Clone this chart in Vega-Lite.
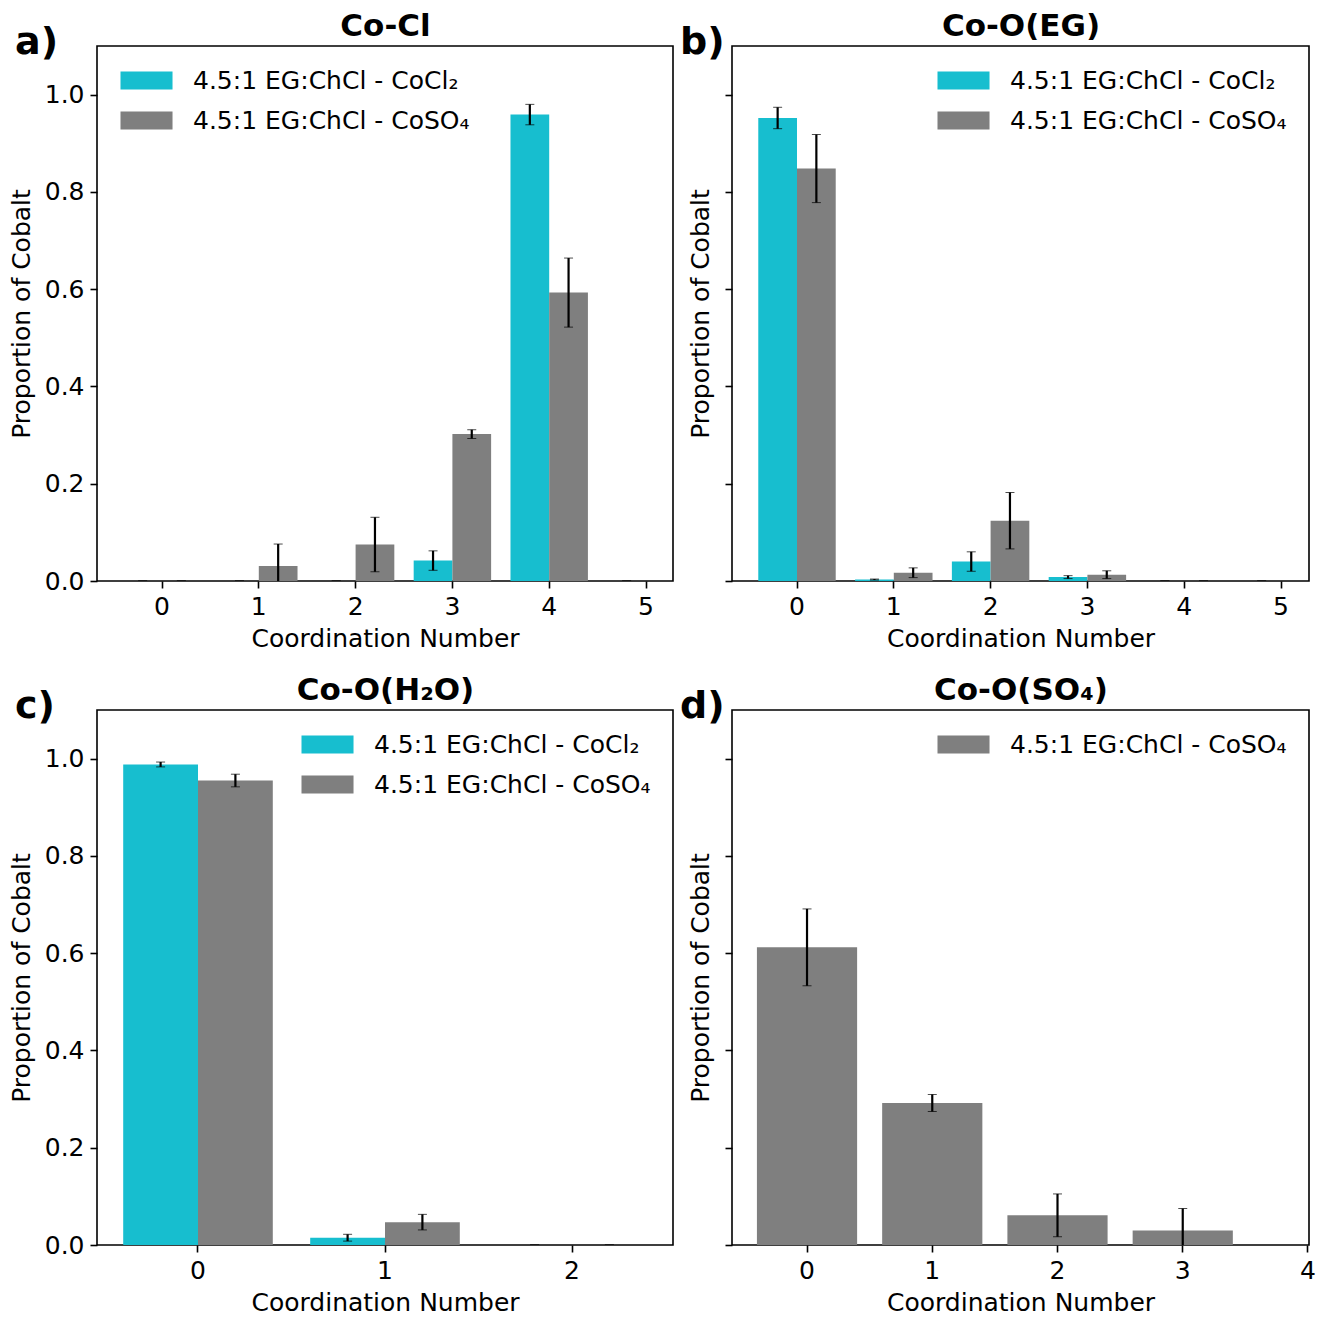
{
  "$schema": "https://vega.github.io/schema/vega-lite/v6.json",
  "padding": {"left": 8, "top": 9, "right": 5, "bottom": 5},
  "config": {
    "font": "DejaVu Sans",
    "view": {"stroke": "black", "strokeWidth": 1.6},
    "axis": {
      "domain": false, "grid": false,
      "tickColor": "black", "tickSize": 7, "tickWidth": 1.6,
      "labelFontSize": 25, "labelColor": "black", "labelPadding": 6,
      "titleFontSize": 25, "titleFontWeight": "normal", "titleColor": "black"
    },
    "title": {"fontSize": 38, "fontWeight": "bold", "color": "black", "anchor": "start", "frame": "group"},
    "legend": {
      "labelFontSize": 25, "labelColor": "black", "labelLimit": 500,
      "symbolType": "M-1,-1H4.78V1H-1Z", "symbolSize": 324, "symbolStrokeWidth": 0, "symbolOffset": -2,
      "labelOffset": 51, "rowPadding": 14, "padding": 22, "offset": 0
    }
  },
  "datasets": {
    "cocl": [
      {"cn": 0, "series": "4.5:1 EG:ChCl - CoCl₂", "value": 0, "err": 0},
      {"cn": 1, "series": "4.5:1 EG:ChCl - CoCl₂", "value": 0, "err": 0},
      {"cn": 2, "series": "4.5:1 EG:ChCl - CoCl₂", "value": 0, "err": 0},
      {"cn": 3, "series": "4.5:1 EG:ChCl - CoCl₂", "value": 0.042, "err": 0.02},
      {"cn": 4, "series": "4.5:1 EG:ChCl - CoCl₂", "value": 0.959, "err": 0.021},
      {"cn": 5, "series": "4.5:1 EG:ChCl - CoCl₂", "value": 0, "err": 0},
      {"cn": 0, "series": "4.5:1 EG:ChCl - CoSO₄", "value": 0, "err": 0},
      {"cn": 1, "series": "4.5:1 EG:ChCl - CoSO₄", "value": 0.031, "err": 0.045},
      {"cn": 2, "series": "4.5:1 EG:ChCl - CoSO₄", "value": 0.075, "err": 0.056},
      {"cn": 3, "series": "4.5:1 EG:ChCl - CoSO₄", "value": 0.302, "err": 0.009},
      {"cn": 4, "series": "4.5:1 EG:ChCl - CoSO₄", "value": 0.593, "err": 0.071}
    ],
    "coeg": [
      {"cn": 0, "series": "4.5:1 EG:ChCl - CoCl₂", "value": 0.952, "err": 0.022},
      {"cn": 1, "series": "4.5:1 EG:ChCl - CoCl₂", "value": 0.003, "err": 0.001},
      {"cn": 2, "series": "4.5:1 EG:ChCl - CoCl₂", "value": 0.04, "err": 0.02},
      {"cn": 3, "series": "4.5:1 EG:ChCl - CoCl₂", "value": 0.008, "err": 0.003},
      {"cn": 4, "series": "4.5:1 EG:ChCl - CoCl₂", "value": 0, "err": 0},
      {"cn": 5, "series": "4.5:1 EG:ChCl - CoCl₂", "value": 0, "err": 0},
      {"cn": 0, "series": "4.5:1 EG:ChCl - CoSO₄", "value": 0.848, "err": 0.07},
      {"cn": 1, "series": "4.5:1 EG:ChCl - CoSO₄", "value": 0.017, "err": 0.01},
      {"cn": 2, "series": "4.5:1 EG:ChCl - CoSO₄", "value": 0.124, "err": 0.058},
      {"cn": 3, "series": "4.5:1 EG:ChCl - CoSO₄", "value": 0.013, "err": 0.008},
      {"cn": 4, "series": "4.5:1 EG:ChCl - CoSO₄", "value": 0, "err": 0}
    ],
    "coh2o": [
      {"cn": 0, "series": "4.5:1 EG:ChCl - CoCl₂", "value": 0.988, "err": 0.005},
      {"cn": 1, "series": "4.5:1 EG:ChCl - CoCl₂", "value": 0.015, "err": 0.007},
      {"cn": 2, "series": "4.5:1 EG:ChCl - CoCl₂", "value": 0, "err": 0},
      {"cn": 0, "series": "4.5:1 EG:ChCl - CoSO₄", "value": 0.955, "err": 0.013},
      {"cn": 1, "series": "4.5:1 EG:ChCl - CoSO₄", "value": 0.047, "err": 0.016},
      {"cn": 2, "series": "4.5:1 EG:ChCl - CoSO₄", "value": 0, "err": 0}
    ],
    "coso4": [
      {"cn": 0, "series": "4.5:1 EG:ChCl - CoSO₄", "value": 0.612, "err": 0.079},
      {"cn": 1, "series": "4.5:1 EG:ChCl - CoSO₄", "value": 0.292, "err": 0.0175},
      {"cn": 2, "series": "4.5:1 EG:ChCl - CoSO₄", "value": 0.061, "err": 0.044},
      {"cn": 3, "series": "4.5:1 EG:ChCl - CoSO₄", "value": 0.03, "err": 0.045}
    ]
  },
  "columns": 2,
  "spacing": {"row": 129, "column": 59},
  "bounds": "flush",
  "resolve": {"scale": {"x": "independent", "y": "independent", "color": "independent", "xOffset": "independent"}, "legend": {"color": "independent"}},
  "concat": [
    {
      "width": 576, "height": 535,
      "title": {"text": "a)", "dx": -82, "dy": 56},
      "data": {"name": "cocl"},
      "encoding": {
        "xOffset": {"field": "series", "type": "nominal", "scale": {"domain": ["4.5:1 EG:ChCl - CoCl₂", "4.5:1 EG:ChCl - CoSO₄"], "paddingInner": 0, "paddingOuter": 0}},
        "y": {"field": "value", "type": "quantitative",
          "scale": {"domain": [0, 1.1], "nice": false},
          "axis": {"title": "Proportion of Cobalt", "values": [0, 0.2, 0.4, 0.6, 0.8, 1.0], "format": ".1f", "titlePadding": 10}}
      },
      "layer": [
        {"mark": {"type": "bar"},
         "encoding": {
           "x": {"field": "cn", "type": "ordinal",
             "scale": {"domain": [0, 1, 2, 3, 4, 5], "range": [16.6, 597.4], "paddingInner": 0.2, "paddingOuter": 0.1, "align": 0.5},
             "axis": {"title": "Coordination Number", "titleX": 288, "labelAngle": 0, "bandPosition": 0.5, "titlePadding": 7}},
           "color": {"field": "series", "type": "nominal",
             "scale": {"domain": ["4.5:1 EG:ChCl - CoCl₂", "4.5:1 EG:ChCl - CoSO₄"], "range": ["#17becf", "#7f7f7f"]},
             "legend": {"title": null, "orient": "top-left"}}}},
        {"mark": {"type": "errorbar", "clip": true, "ticks": {"size": 9, "strokeWidth": 2, "color": "black"}, "rule": {"strokeWidth": 2.2, "color": "black"}},
         "encoding": {
           "x": {"field": "cn", "type": "ordinal",
             "axis": {"orient": "top", "title": "Co-Cl", "titleX": 288, "ticks": false, "labels": false, "titleFontSize": 31, "titleFontWeight": "bold", "titlePadding": 4}},
           "yError": {"field": "err"}}}
      ],
      "resolve": {"axis": {"x": "independent"}}
    },
    {
      "width": 577, "height": 535,
      "title": {"text": "b)", "dx": -52, "dy": 56},
      "data": {"name": "coeg"},
      "encoding": {
        "xOffset": {"field": "series", "type": "nominal", "scale": {"domain": ["4.5:1 EG:ChCl - CoCl₂", "4.5:1 EG:ChCl - CoSO₄"], "paddingInner": 0, "paddingOuter": 0}},
        "y": {"field": "value", "type": "quantitative",
          "scale": {"domain": [0, 1.1], "nice": false},
          "axis": {"title": "Proportion of Cobalt", "values": [0, 0.2, 0.4, 0.6, 0.8, 1.0], "labels": false, "titlePadding": 11}}
      },
      "layer": [
        {"mark": {"type": "bar"},
         "encoding": {
           "x": {"field": "cn", "type": "ordinal",
             "scale": {"domain": [0, 1, 2, 3, 4, 5], "range": [16.6, 597.4], "paddingInner": 0.2, "paddingOuter": 0.1, "align": 0.5},
             "axis": {"title": "Coordination Number", "titleX": 288.5, "labelAngle": 0, "bandPosition": 0.5, "titlePadding": 7}},
           "color": {"field": "series", "type": "nominal",
             "scale": {"domain": ["4.5:1 EG:ChCl - CoCl₂", "4.5:1 EG:ChCl - CoSO₄"], "range": ["#17becf", "#7f7f7f"]},
             "legend": {"title": null, "orient": "top-right"}}}},
        {"mark": {"type": "errorbar", "clip": true, "ticks": {"size": 9, "strokeWidth": 2, "color": "black"}, "rule": {"strokeWidth": 2.2, "color": "black"}},
         "encoding": {
           "x": {"field": "cn", "type": "ordinal",
             "axis": {"orient": "top", "title": "Co-O(EG)", "titleX": 288.5, "ticks": false, "labels": false, "titleFontSize": 31, "titleFontWeight": "bold", "titlePadding": 4}},
           "yError": {"field": "err"}}}
      ],
      "resolve": {"axis": {"x": "independent"}}
    },
    {
      "width": 576, "height": 535,
      "title": {"text": "c)", "dx": -82, "dy": 56},
      "data": {"name": "coh2o"},
      "encoding": {
        "xOffset": {"field": "series", "type": "nominal", "scale": {"domain": ["4.5:1 EG:ChCl - CoCl₂", "4.5:1 EG:ChCl - CoSO₄"], "paddingInner": 0, "paddingOuter": 0}},
        "y": {"field": "value", "type": "quantitative",
          "scale": {"domain": [0, 1.1], "nice": false},
          "axis": {"title": "Proportion of Cobalt", "values": [0, 0.2, 0.4, 0.6, 0.8, 1.0], "format": ".1f", "titlePadding": 10}}
      },
      "layer": [
        {"mark": {"type": "bar"},
         "encoding": {
           "x": {"field": "cn", "type": "ordinal",
             "scale": {"domain": [0, 1, 2], "range": [7.5, 568.5], "paddingInner": 0.2, "paddingOuter": 0.1, "align": 0.5},
             "axis": {"title": "Coordination Number", "titleX": 288, "labelAngle": 0, "bandPosition": 0.5, "titlePadding": 7}},
           "color": {"field": "series", "type": "nominal",
             "scale": {"domain": ["4.5:1 EG:ChCl - CoCl₂", "4.5:1 EG:ChCl - CoSO₄"], "range": ["#17becf", "#7f7f7f"]},
             "legend": {"title": null, "orient": "top-right"}}}},
        {"mark": {"type": "errorbar", "clip": true, "ticks": {"size": 9, "strokeWidth": 2, "color": "black"}, "rule": {"strokeWidth": 2.2, "color": "black"}},
         "encoding": {
           "x": {"field": "cn", "type": "ordinal",
             "axis": {"orient": "top", "title": "Co-O(H₂O)", "titleX": 288, "ticks": false, "labels": false, "titleFontSize": 31, "titleFontWeight": "bold", "titlePadding": 4}},
           "yError": {"field": "err"}}}
      ],
      "resolve": {"axis": {"x": "independent"}}
    },
    {
      "width": 577, "height": 535,
      "title": {"text": "d)", "dx": -52, "dy": 56},
      "data": {"name": "coso4"},
      "encoding": {
        "xOffset": {"field": "series", "type": "nominal", "scale": {"domain": ["4.5:1 EG:ChCl - CoSO₄"], "paddingInner": 0, "paddingOuter": 0}},
        "y": {"field": "value", "type": "quantitative",
          "scale": {"domain": [0, 1.1], "nice": false},
          "axis": {"title": "Proportion of Cobalt", "values": [0, 0.2, 0.4, 0.6, 0.8, 1.0], "labels": false, "titlePadding": 11}}
      },
      "layer": [
        {"mark": {"type": "bar"},
         "encoding": {
           "x": {"field": "cn", "type": "ordinal",
             "scale": {"domain": [0, 1, 2, 3, 4], "range": [12.4, 638.6], "paddingInner": 0.2, "paddingOuter": 0.1, "align": 0.5},
             "axis": {"title": "Coordination Number", "titleX": 288.5, "labelAngle": 0, "bandPosition": 0.5, "titlePadding": 7}},
           "color": {"field": "series", "type": "nominal",
             "scale": {"domain": ["4.5:1 EG:ChCl - CoSO₄"], "range": ["#7f7f7f"]},
             "legend": {"title": null, "orient": "top-right"}}}},
        {"mark": {"type": "errorbar", "clip": true, "ticks": {"size": 9, "strokeWidth": 2, "color": "black"}, "rule": {"strokeWidth": 2.2, "color": "black"}},
         "encoding": {
           "x": {"field": "cn", "type": "ordinal",
             "axis": {"orient": "top", "title": "Co-O(SO₄)", "titleX": 288.5, "ticks": false, "labels": false, "titleFontSize": 31, "titleFontWeight": "bold", "titlePadding": 4}},
           "yError": {"field": "err"}}}
      ],
      "resolve": {"axis": {"x": "independent"}}
    }
  ]
}
